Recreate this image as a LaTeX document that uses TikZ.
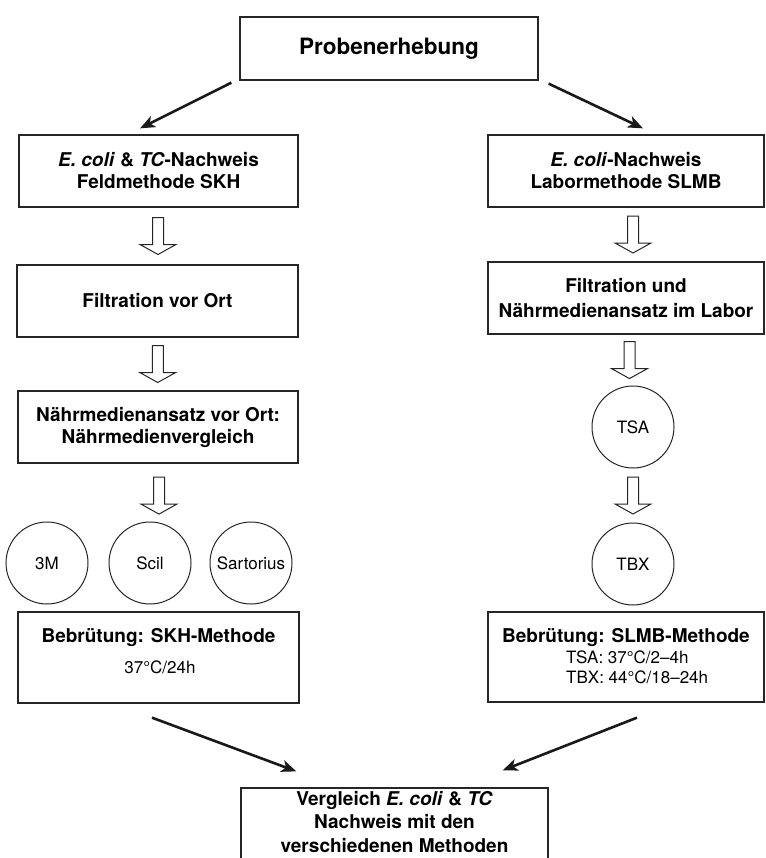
\documentclass[tikz,border=0pt]{standalone}
\usepackage{fontspec}
\setmainfont{TeX Gyre Heros}
\usetikzlibrary{arrows.meta,calc}
\tikzset{
  box/.style={draw=black!85, line width=1.3bp, rectangle, inner sep=0pt, align=center,
    font=\bfseries\fontsize{19bp}{22bp}\selectfont},
  titletext/.style={inner sep=0pt, font=\bfseries\fontsize{19bp}{22bp}\selectfont},
  detailtext/.style={inner sep=0pt, font=\fontsize{17bp}{20bp}\selectfont},
  circ/.style={draw=black!85, line width=1bp, circle, minimum size=82bp, inner sep=0pt,
    font=\fontsize{17bp}{20bp}\selectfont},
  darr/.style={line width=2.6bp, draw=black!90, -{Stealth[length=15bp,width=12bp,inset=4bp]}},
  harrowpic/.pic={
    \draw[draw=black!85, line width=1bp, fill=white]
      (-5.5,-18.5) -- (5.5,-18.5) -- (5.5,8.5) -- (18,8.5) -- (0,18.5)
      -- (-18,8.5) -- (-5.5,8.5) -- cycle;
  }
}
\begin{document}
\begin{tikzpicture}[x=1bp,y=-1bp]
\clip (0,0) rectangle (766,858);
\fill[white] (0,0) rectangle (766,858);

% top box
\node[box, minimum width=298bp, minimum height=63bp,
      font=\bfseries\fontsize{22.5bp}{26bp}\selectfont] (P) at (389,48.5) {Probenerhebung};

% left column
\node[box, minimum width=279bp, minimum height=72bp] (L1) at (158.5,171)
  {\textit{E. coli} \& \textit{TC}-Nachweis\\Feldmethode SKH};
\node[box, minimum width=281bp, minimum height=72bp] (L2) at (157.5,301)
  {Filtration vor Ort};
\node[box, minimum width=280bp, minimum height=72bp] (L3) at (158,427)
  {Nährmedienansatz vor Ort:\\Nährmedienvergleich};
\node[circ] (C1) at (47,563) {3M};
\node[circ] (C2) at (150,563) {Scil};
\node[circ] (C3) at (251,563) {Sartorius};
\node[box, minimum width=281bp, minimum height=91bp] (L4) at (158.5,657.5) {};
\node[titletext, anchor=base] (L4t) at (158.5,642) {Bebrütung: SKH-Methode};
\node[detailtext, anchor=base] (L4d) at (160,673) {37°C/24h};

% right column
\node[box, minimum width=276bp, minimum height=72bp] (R1) at (626,171)
  {\textit{E. coli}-Nachweis\\Labormethode SLMB};
\node[box, minimum width=276bp, minimum height=72bp,
      font=\bfseries\fontsize{19bp}{25bp}\selectfont] (R2) at (626,298)
  {Filtration und\\Nährmedienansatz im Labor};
\node[circ] (TSA) at (633,427) {TSA};
\node[circ] (TBX) at (633,564) {TBX};
\node[box, minimum width=276bp, minimum height=90bp] (R4) at (626,657) {};
\node[titletext, anchor=base] (R4t) at (626,642) {Bebrütung: SLMB-Methode};
\node[detailtext, anchor=base west] (R4a) at (566,663) {TSA: 37°C/2–4h};
\node[detailtext, anchor=base west] (R4b) at (566,683) {TBX: 44°C/18–24h};

% bottom box (runs off the lower edge, as in the reference)
\node[box, minimum width=307bp, minimum height=90bp] (B) at (394.5,833) {};
\node[inner sep=0pt, align=center, anchor=north,
      font=\bfseries\fontsize{19bp}{23.5bp}\selectfont] (Bt) at (394.5,791)
  {Vergleich \textit{E. coli} \& \textit{TC}\\Nachweis mit den\\verschiedenen Methoden};

% hollow arrows
\pic at ($(L1.south)!0.5!(L2.north)$) {harrowpic};
\pic at ($(L2.south)!0.5!(L3.north)$) {harrowpic};
\pic at ($(L3.south)!0.5!(C2.north)+(5,3)$) {harrowpic};
\pic at ($(R1.south)!0.5!(R2.north)+(7,0)$) {harrowpic};
\pic at ($(R2.south)!0.5!(TSA.north)$) {harrowpic};
\pic at ($(TSA.south)!0.5!(TBX.north)$) {harrowpic};

% diagonal arrows
\draw[darr] ([shift={(-8,2)}]P.south west) -- ([shift={(-18.5,-6)}]L1.north);
\draw[darr] ([shift={(10,3)}]P.south east) -- ([shift={(17,-6)}]R1.north);
\draw[darr] ([shift={(-6.5,14)}]L4.south) -- ([shift={(56,-16)}]B.north west);
\draw[darr] ([shift={(11,15)}]R4.south) -- ([shift={(-46,-17)}]B.north east);
\end{tikzpicture}
\end{document}
